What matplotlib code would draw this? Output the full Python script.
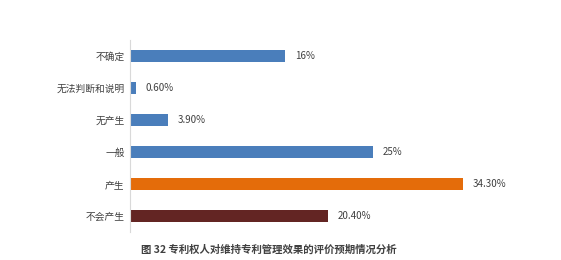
import matplotlib.pyplot as plt

plt.rcParams['font.family'] = ['Noto Sans CJK SC', 'DejaVu Sans']

# 数据
categories = ["不确定", "无法判断和说明", "无产生", "一般", "产生", "不会产生"]
values = [16, 0.6, 3.9, 25, 34.3, 20.4]
labels = ["16%", "0.60%", "3.90%", "25%", "34.30%", "20.40%"]
colors = ["#4a7ebb", "#4a7ebb", "#4a7ebb", "#4a7ebb", "#e46c0a", "#632523"]
caption = "图 32 专利权人对维持专利管理效果的评价预期情况分析"

fig = plt.figure(figsize=(5.61, 2.60), dpi=100)
ax = fig.add_axes([0.232, 0.108, 0.70, 0.738])

y = list(range(len(categories)))
ax.barh(y, values, height=0.38, color=colors)
for yi, v, lab in zip(y, values, labels):
    ax.text(v + 1.0, yi, lab, va="center", ha="left", fontsize=7, color="#404040")

ax.set_yticks(y)
ax.set_yticklabels(categories, fontsize=7, color="#404040")
ax.set_ylim(5.5, -0.5)
ax.set_xlim(0, 40.5)
ax.set_xticks([])
ax.tick_params(axis="y", length=0, pad=4)
for s in ["top", "right", "bottom"]:
    ax.spines[s].set_visible(False)
ax.spines["left"].set_color("#d9d9d9")

fig.text(0.48, 0.02, caption, ha="center", va="bottom", fontsize=7.5,
         color="#404040", fontweight="bold")

fig.savefig("out.png", dpi=100)
